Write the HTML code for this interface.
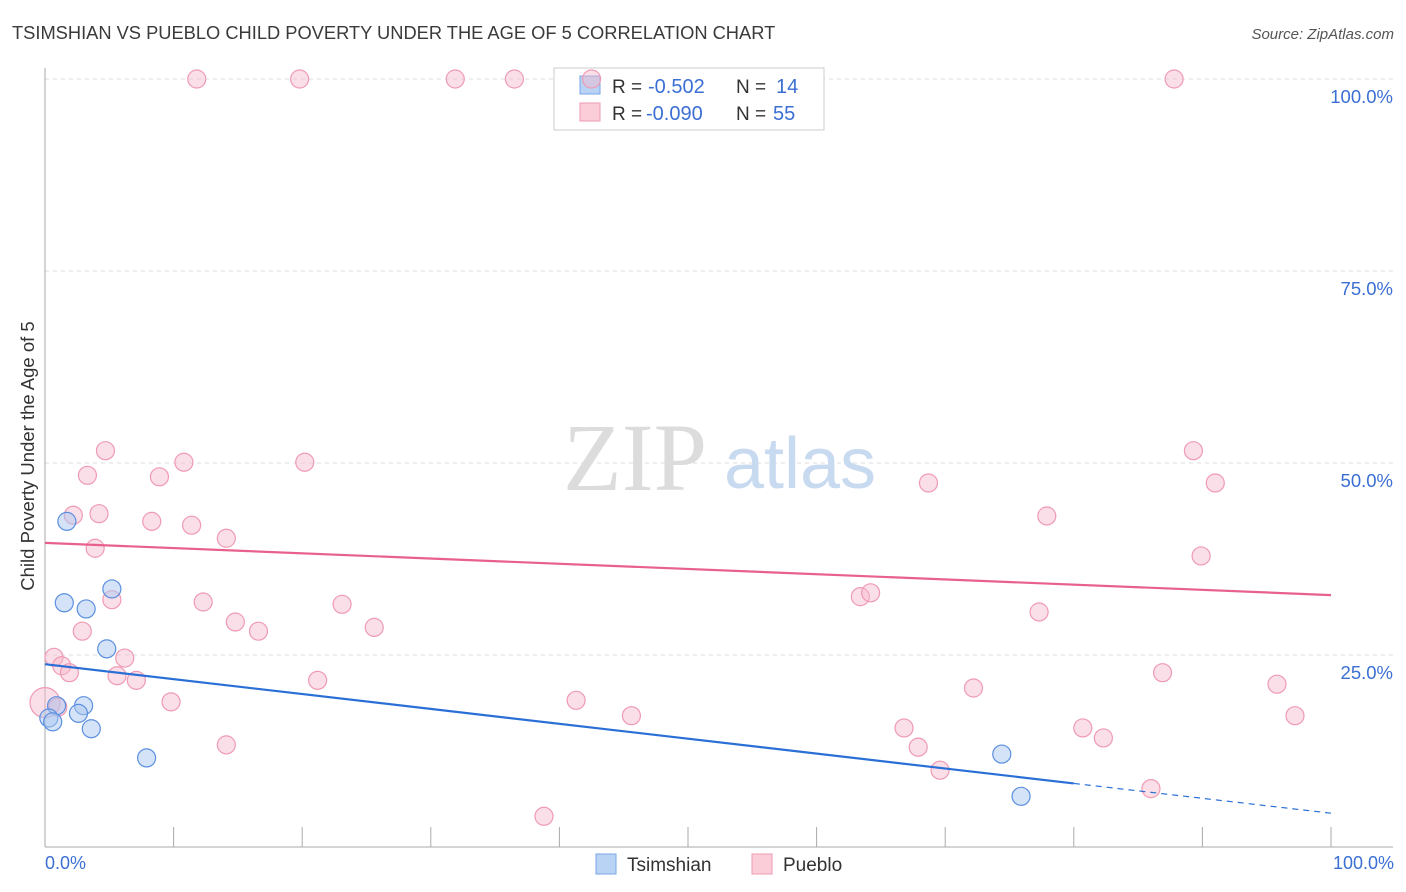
<!DOCTYPE html>
<html><head><meta charset="utf-8">
<style>
body{margin:0;background:#fff;font-family:"Liberation Sans",sans-serif;}
svg{display:block}
</style></head>
<body>
<svg id="chart" width="1406" height="892" viewBox="0 0 1406 892" xmlns="http://www.w3.org/2000/svg">
<text x="12" y="39" font-size="18.3" fill="#3a3a3a">TSIMSHIAN VS PUEBLO CHILD POVERTY UNDER THE AGE OF 5 CORRELATION CHART</text>
<text x="1394" y="39" font-size="15" fill="#555" text-anchor="end" font-style="italic">Source: ZipAtlas.com</text>
<g id="grid"></g>
<g>
<text x="635" y="490" font-size="96" fill="#dcdcdc" font-family="Liberation Serif,serif" text-anchor="middle">ZIP</text>
<text x="800" y="488" font-size="72" fill="#c8daf0" text-anchor="middle">atlas</text>
</g>
<g id="axes"></g>
<g>
<rect x="554" y="68" width="270" height="62" fill="#fff" stroke="#ccc"/>
<rect x="580" y="76" width="20" height="18" fill="#b9d3f5" stroke="#7aa6e6"/>
<rect x="580" y="103" width="20" height="18" fill="#fbcdd9" stroke="#ef9ab3"/>
<text x="612" y="93" font-size="19" fill="#333">R =</text><text x="648" y="93" font-size="20" fill="#3b6fd4">-0.502</text>
<text x="736" y="93" font-size="19" fill="#333">N =</text><text x="776" y="93" font-size="20" fill="#3b6fd4">14</text>
<text x="612" y="120" font-size="19" fill="#333">R =</text><text x="646" y="120" font-size="20" fill="#3b6fd4">-0.090</text>
<text x="736" y="120" font-size="19" fill="#333">N =</text><text x="773" y="120" font-size="20" fill="#3b6fd4">55</text>
</g>
<g id="marks"></g>
<text transform="translate(34,456) rotate(-90)" font-size="18.5" fill="#333" text-anchor="middle">Child Poverty Under the Age of 5</text>
<text x="45" y="869" font-size="18" fill="#3b6fd4">0.0%</text>
<text x="1394" y="869" font-size="18" fill="#3b6fd4" text-anchor="end">100.0%</text>
<g>
<rect x="596" y="854" width="20" height="20" fill="#b9d3f5" stroke="#7aa6e6"/>
<text x="627" y="871" font-size="19" fill="#333">Tsimshian</text>
<rect x="752" y="854" width="20" height="20" fill="#fbcdd9" stroke="#ef9ab3"/>
<text x="783" y="871" font-size="19" fill="#333">Pueblo</text>
</g>
</svg>
<script>
const yTicks=[25,50,75,100];
const yTickLabels=["25.0%","50.0%","75.0%","100.0%"];
const xTicks=[0,10,20,30,40,50,60,70,80,90,100];
const blueX=[1.7,1.5,3.2,5.2,4.8,0.9,3.0,2.6,0.3,0.6,3.6,7.9,74.4,75.9];
const blueY=[42.4,31.8,31.0,33.6,25.8,18.4,18.4,17.4,16.8,16.3,15.4,11.6,12.1,6.6];
const pinkX=[11.8,19.8,31.9,36.5,42.5,87.8,4.7,3.3,8.9,10.8,20.2,2.2,4.2,8.3,11.4,14.1,3.9,5.2,12.3,23.1,2.9,14.8,16.6,25.6,0.7,1.3,1.9,6.2,5.6,7.1,21.2,9.8,0,1.0,14.1,41.3,45.6,38.8,68.7,77.9,89.3,91.0,89.9,63.4,64.2,77.3,86.9,72.2,95.8,97.2,66.8,67.9,69.6,80.7,82.3,86.0];
const pinkY=[100,100,100,100,100,100,51.6,48.4,48.2,50.1,50.1,43.2,43.4,42.4,41.9,40.2,38.9,32.2,31.9,31.6,28.1,29.3,28.1,28.6,24.7,23.6,22.7,24.6,22.3,21.7,21.7,18.9,18.8,18.2,13.3,19.1,17.1,4.0,47.4,43.1,51.6,47.4,37.9,32.6,33.1,30.6,22.7,20.7,21.2,17.1,15.5,13.0,10.0,15.5,14.2,7.6];
const pinkTrend=[39.6,32.8];
const blueTrend=[23.8,4.4];
const blueSolidEnd=80;

const NS="http://www.w3.org/2000/svg";
const sx=v=>45+v*12.86, sy=v=>847-v*7.68;
function mk(tag,attrs,parent){const e=document.createElementNS(NS,tag);for(const k in attrs)e.setAttribute(k,attrs[k]);parent.appendChild(e);return e;}
const grid=document.getElementById('grid'),axes=document.getElementById('axes'),marks=document.getElementById('marks');
yTicks.forEach((t,i)=>{
 const l=mk('line',{x1:45,x2:1393,y1:sy(t),y2:sy(t),stroke:'#ddd','stroke-dasharray':'4,4'},grid);
 
 
 const tx=mk('text',{x:1393,y:sy(t)+24,'font-size':18.5,fill:'#3b6fd4','text-anchor':'end'},axes);
 tx.textContent=yTickLabels[i];
 
 
});
mk('line',{x1:45,x2:45,y1:68,y2:847,stroke:'#aaa'},axes);
mk('line',{x1:45,x2:1393,y1:847,y2:847,stroke:'#aaa'},axes);
xTicks.forEach(t=>{
 const l=mk('line',{x1:sx(t),x2:sx(t),y1:827,y2:847,stroke:'#aaa'},axes);
 
 
});
pinkX.forEach((x,i)=>{
 const c=mk('circle',{cx:sx(x),cy:sy(pinkY[i]),r:i==32?15:9,fill:'#f7b8cb','fill-opacity':0.45,stroke:'#ef9ab3','stroke-width':1.2},marks);
 
 
});
blueX.forEach((x,i)=>{
 const c=mk('circle',{cx:sx(x),cy:sy(blueY[i]),r:9,fill:'#a9c8f0','fill-opacity':0.5,stroke:'#5b8fe0','stroke-width':1.2},marks);
 
 
});
const pl=mk('line',{x1:sx(0),y1:sy(pinkTrend[0]),x2:sx(100),y2:sy(pinkTrend[1]),stroke:'#e8608c','stroke-width':2.2},marks);


const bAt=v=>blueTrend[0]+(blueTrend[1]-blueTrend[0])*v/100;
const bl=mk('line',{x1:sx(0),y1:sy(blueTrend[0]),x2:sx(blueSolidEnd),y2:sy(bAt(blueSolidEnd)),stroke:'#2a6fd6','stroke-width':2.2},marks);


const bd=mk('line',{x1:sx(blueSolidEnd),y1:sy(bAt(blueSolidEnd)),x2:sx(100),y2:sy(blueTrend[1]),stroke:'#2a6fd6','stroke-width':1.2,'stroke-dasharray':'6,5'},marks);


</script>
</body></html>
